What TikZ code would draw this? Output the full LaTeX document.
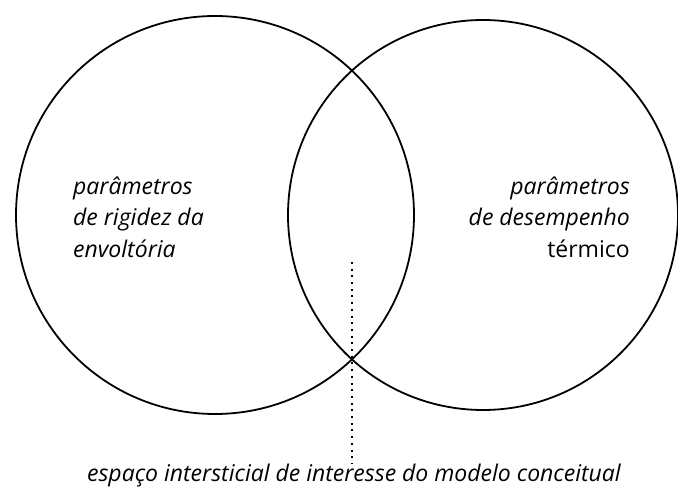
\documentclass[tikz,border=0pt]{standalone}
\usepackage{fontspec}
\setmainfont{Open Sans}
\usepackage{tikz}
\usetikzlibrary{positioning}

\begin{document}
\begin{tikzpicture}[x=1pt,y=1pt,
    venn/.style={draw, circle, line width=1.8pt, inner sep=0pt},
    label/.style={font=\fontsize{23}{31.5}\selectfont, inner sep=0pt}]
    % fix the page size
    \useasboundingbox (0,0) rectangle (678,498);

    % the two sets
    \node[venn, minimum size=398pt] (rigidez) at (215,283) {};
    \node[venn, minimum size=390pt] (termico) at (483,283) {};

    % text inside the left set
    \node[label, anchor=west, align=left] (txtrigidez) at (73,281)
        {\itshape parâmetros\\ \itshape de rigidez da\\ \itshape envoltória};

    % text inside the right set
    \node[label, anchor=east, align=right] (txttermico) at (630,281)
        {\itshape parâmetros\\ \itshape de desempenho\\ térmico};

    % label below, with a dotted pointer up into the overlap
    \node[label] (espaco) at (354,22)
        {\itshape espaço intersticial de interesse do modelo conceitual};
    \coordinate (topo) at (352,236);
    \draw[line width=2pt, dash pattern=on 2pt off 4.7pt] (topo) -- (topo |- espaco.north);
\end{tikzpicture}
\end{document}
